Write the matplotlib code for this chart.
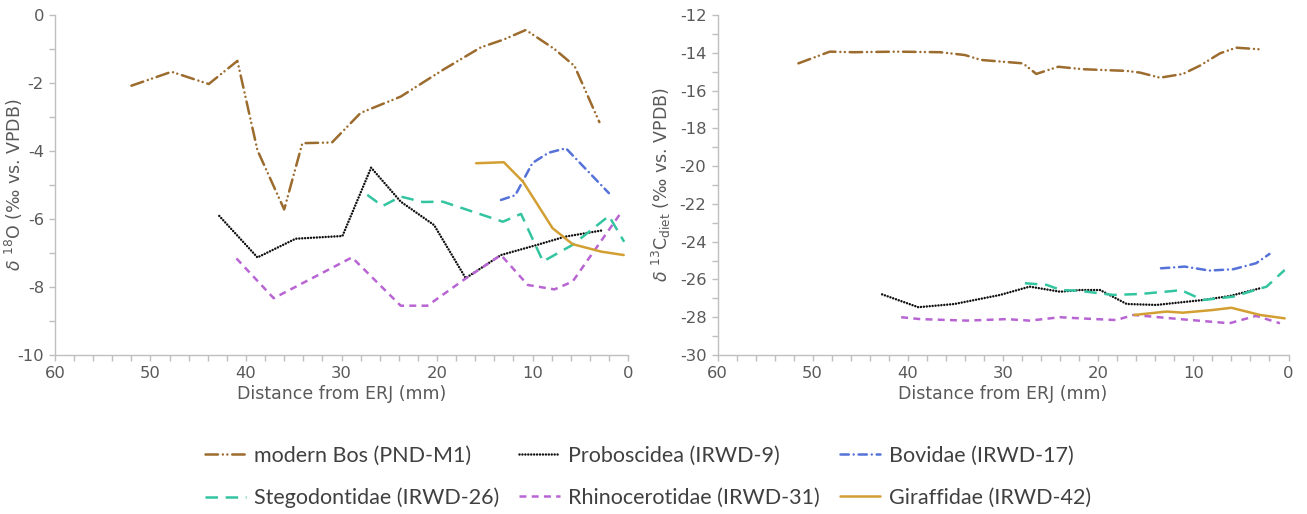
import matplotlib
matplotlib.use("Agg")
import matplotlib.pyplot as plt
from matplotlib.ticker import MultipleLocator

plt.rcParams["lines.scale_dashes"] = False
plt.rcParams["axes.unicode_minus"] = False
plt.rcParams["font.family"] = "DejaVu Sans"

# ---- data (distance from ERJ in mm, isotope value in permil) ----
bos_o_x = [52.0, 47.8, 43.9, 40.9, 38.8, 36.0, 34.1, 31.0, 28.0, 23.8, 19.3, 15.4, 13.0, 10.7, 7.7, 5.6, 3.0]
bos_o_y = [-2.08, -1.67, -2.03, -1.35, -3.98, -5.72, -3.77, -3.75, -2.88, -2.40, -1.60, -0.95, -0.72, -0.44, -1.0, -1.5, -3.15]
pro_o_x = [42.8, 38.8, 34.8, 29.9, 26.9, 23.8, 20.3, 17.0, 13.3, 9.5, 6.6, 2.8]
pro_o_y = [-5.91, -7.13, -6.58, -6.50, -4.49, -5.49, -6.18, -7.74, -7.06, -6.76, -6.52, -6.34]
bov_o_x = [13.3, 11.8, 10.0, 8.3, 6.5, 2.0]
bov_o_y = [-5.44, -5.30, -4.35, -4.05, -3.92, -5.24]
ste_o_x = [27.3, 25.7, 23.8, 21.5, 19.4, 13.1, 11.2, 8.9, 5.8, 2.0, 0.4]
ste_o_y = [-5.29, -5.62, -5.34, -5.50, -5.49, -6.08, -5.85, -7.25, -6.76, -5.91, -6.67]
rhi_o_x = [41.0, 37.1, 28.9, 23.8, 21.0, 17.0, 13.3, 10.5, 7.7, 5.8, 0.9]
rhi_o_y = [-7.16, -8.33, -7.13, -8.55, -8.55, -7.75, -7.06, -7.94, -8.07, -7.84, -5.88]
gir_o_x = [15.9, 13.0, 11.0, 7.9, 5.8, 2.8, 0.45]
gir_o_y = [-4.36, -4.33, -4.90, -6.27, -6.74, -6.96, -7.06]

bos_c_x = [51.5, 48.2, 45.7, 41.2, 36.6, 34.0, 32.3, 27.9, 26.5, 24.2, 21.6, 17.0, 15.6, 13.5, 11.1, 9.3, 7.2, 5.5, 2.9]
bos_c_y = [-14.56, -13.94, -13.97, -13.94, -13.97, -14.12, -14.38, -14.56, -15.12, -14.74, -14.87, -14.96, -15.05, -15.32, -15.12, -14.68, -14.03, -13.73, -13.82]
pro_c_x = [42.7, 38.9, 35.1, 30.3, 27.2, 24.0, 21.9, 19.8, 17.0, 13.9, 9.0, 6.2, 3.0]
pro_c_y = [-26.79, -27.47, -27.30, -26.82, -26.38, -26.65, -26.56, -26.56, -27.30, -27.35, -27.09, -26.88, -26.47]
bov_c_x = [13.4, 10.9, 8.3, 5.8, 3.4, 2.0]
bov_c_y = [-25.41, -25.32, -25.53, -25.46, -25.14, -24.65]
ste_c_x = [27.7, 25.4, 23.9, 22.0, 18.4, 15.6, 12.1, 11.3, 9.0, 5.8, 2.3, 0.4]
ste_c_y = [-26.20, -26.29, -26.56, -26.60, -26.82, -26.77, -26.61, -26.56, -27.09, -26.91, -26.38, -25.50]
rhi_c_x = [40.7, 38.7, 33.8, 29.6, 27.2, 24.0, 21.9, 18.1, 16.3, 11.4, 6.2, 3.4, 0.9]
rhi_c_y = [-28.00, -28.10, -28.18, -28.10, -28.18, -28.00, -28.06, -28.15, -27.88, -28.10, -28.32, -27.93, -28.32]
gir_c_x = [16.2, 12.8, 11.1, 8.0, 6.0, 3.0, 0.4]
gir_c_y = [-27.88, -27.70, -27.76, -27.62, -27.50, -27.88, -28.06]

labels = ["modern Bos (PND-M1)", "Proboscidea (IRWD-9)", "Bovidae (IRWD-17)",
          "Stegodontidae (IRWD-26)", "Rhinocerotidae (IRWD-31)", "Giraffidae (IRWD-42)"]

# ---- styles ----
STY = [
    dict(color="#9C6B2E", lw=1.8, ls=(0, (9, 3.5, 0.01, 3.2, 0.01, 3.5)), dash_capstyle="round"),
    dict(color="#111111", lw=1.8, ls=(0, (0.01, 2.1)), dash_capstyle="round"),
    dict(color="#5572D9", lw=1.8, ls=(0, (6, 3.5, 0.01, 3.5)), dash_capstyle="round"),
    dict(color="#33C4A0", lw=1.8, ls=(0, (9, 5.5)), dash_capstyle="butt"),
    dict(color="#B865D3", lw=1.8, ls=(0, (5, 3.8)), dash_capstyle="butt"),
    dict(color="#D39F33", lw=1.8, ls="-"),
]
GRAY = "#BFBFBF"; TXT = "#595959"

fig = plt.figure(figsize=(13.07, 5.14), dpi=100)
W, H = 1307, 514
axL = fig.add_axes([55/W, 1-355/H, 573/W, 340/H])
axR = fig.add_axes([717.5/W, 1-355/H, 571/W, 340/H])

o_series = [(bos_o_x, bos_o_y), (pro_o_x, pro_o_y), (bov_o_x, bov_o_y),
            (ste_o_x, ste_o_y), (rhi_o_x, rhi_o_y), (gir_o_x, gir_o_y)]
c_series = [(bos_c_x, bos_c_y), (pro_c_x, pro_c_y), (bov_c_x, bov_c_y),
            (ste_c_x, ste_c_y), (rhi_c_x, rhi_c_y), (gir_c_x, gir_c_y)]

handles = []
for (x, y), st, lab in zip(o_series, STY, labels):
    h, = axL.plot(x, y, label=lab, solid_capstyle="round", **st)
    handles.append(h)
for (x, y), st in zip(c_series, STY):
    axR.plot(x, y, solid_capstyle="round", **st)

for ax, (lo, hi) in ((axL, (-10, 0)), (axR, (-30, -12))):
    ax.set_xlim(60, 0); ax.set_ylim(lo, hi)
    ax.xaxis.set_major_locator(MultipleLocator(10)); ax.xaxis.set_minor_locator(MultipleLocator(2))
    ax.yaxis.set_major_locator(MultipleLocator(2)); ax.yaxis.set_minor_locator(MultipleLocator(1))
    for sp in ("top", "right"): ax.spines[sp].set_visible(False)
    for sp in ("left", "bottom"): ax.spines[sp].set_color(GRAY); ax.spines[sp].set_linewidth(1.0)
    ax.tick_params(which="both", direction="out", length=4, width=1, color=GRAY,
                   labelcolor=TXT, labelsize=11.8, pad=4)
    ax.set_xlabel("Distance from ERJ (mm)", fontsize=12.5, color=TXT, labelpad=3)
    ax.patch.set_alpha(0)

axL.set_ylabel(r"$\delta$ $^{18}$O (‰ vs. VPDB)", fontsize=12.5, color=TXT)
axL.yaxis.set_label_coords(-0.052, 0.5)
axR.set_ylabel(r"$\delta$ $^{13}$C$_{\rm diet}$ (‰ vs. VPDB)", fontsize=12.5, color=TXT)
axR.yaxis.set_label_coords(-0.078, 0.5)

# legend fills column-wise; reorder so rows read like the reference
order = [0, 3, 1, 4, 2, 5]
fig.legend(handles=[handles[i] for i in order], labels=[labels[i] for i in order],
           loc="center", bbox_to_anchor=(648/W, 1-477/H), ncol=3,
           frameon=False, handlelength=1.9, handletextpad=0.4,
           columnspacing=0.9, labelspacing=1.0, labelcolor="#404040",
           prop={"family": "Lato", "size": 15.5})

fig.savefig("out.png", dpi=100, facecolor="white")
